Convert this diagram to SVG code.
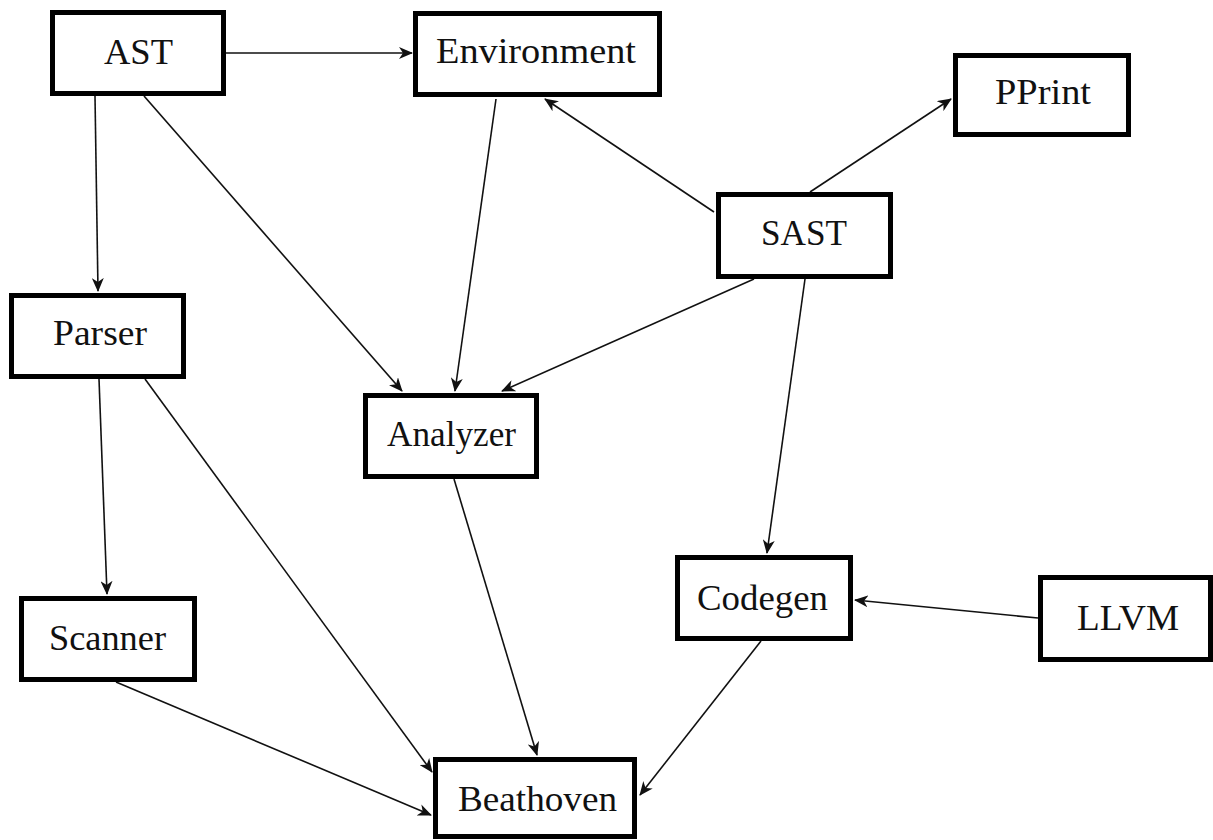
<svg xmlns="http://www.w3.org/2000/svg" width="1213" height="840" viewBox="0 0 1213 840">
<style>
.box{fill:#fff;stroke:#000;stroke-width:5}
.lbl{font-family:"Liberation Serif","Times New Roman",serif;font-size:35px;fill:#111;text-anchor:middle}
.edge{stroke:#111;stroke-width:1.6;fill:none;marker-end:url(#arr)}
</style>
<defs>
<marker id="arr" markerUnits="userSpaceOnUse" markerWidth="14" markerHeight="12" refX="13" refY="6" orient="auto" viewBox="0 0 14 12">
<path d="M0,0 L14,6 L0,12 L4,6 z" fill="#111"/>
</marker>
</defs>
<rect width="1213" height="840" fill="#fff"/>
<g id="connectors">
<line class="edge" x1="226" y1="53" x2="412" y2="53"/>
<line class="edge" x1="95" y1="96" x2="98" y2="291"/>
<line class="edge" x1="144" y1="96" x2="402" y2="391"/>
<line class="edge" x1="496" y1="99" x2="455" y2="391"/>
<line class="edge" x1="714" y1="212" x2="545" y2="99"/>
<line class="edge" x1="810" y1="192" x2="951" y2="99"/>
<line class="edge" x1="754" y1="279" x2="502" y2="391"/>
<line class="edge" x1="805" y1="279" x2="767" y2="553"/>
<line class="edge" x1="1038" y1="618" x2="855" y2="600"/>
<line class="edge" x1="99" y1="379" x2="107" y2="594"/>
<line class="edge" x1="145" y1="379" x2="432" y2="772"/>
<line class="edge" x1="116" y1="682" x2="431" y2="815"/>
<line class="edge" x1="454" y1="479" x2="537" y2="755"/>
<line class="edge" x1="761" y1="641" x2="640" y2="795"/>
</g>
<g id="AST"><rect class="box" x="52.5" y="12.5" width="171" height="81"/><text class="lbl" x="138.5" y="64" textLength="69" lengthAdjust="spacingAndGlyphs">AST</text></g>
<g id="Environment"><rect class="box" x="415.5" y="13.5" width="244" height="81"/><text class="lbl" x="536" y="63" textLength="200" lengthAdjust="spacingAndGlyphs">Environment</text></g>
<g id="PPrint"><rect class="box" x="955.5" y="55.5" width="173" height="79"/><text class="lbl" x="1043" y="104" textLength="96" lengthAdjust="spacingAndGlyphs">PPrint</text></g>
<g id="SAST"><rect class="box" x="718.5" y="194.5" width="172" height="82"/><text class="lbl" x="804" y="245" textLength="86" lengthAdjust="spacingAndGlyphs">SAST</text></g>
<g id="Parser"><rect class="box" x="11.5" y="295.5" width="172" height="81"/><text class="lbl" x="100" y="345" textLength="94" lengthAdjust="spacingAndGlyphs">Parser</text></g>
<g id="Analyzer"><rect class="box" x="365.5" y="395.5" width="171" height="81"/><text class="lbl" x="451.5" y="446" textLength="129" lengthAdjust="spacingAndGlyphs">Analyzer</text></g>
<g id="Scanner"><rect class="box" x="21.5" y="598.5" width="173" height="81"/><text class="lbl" x="107.5" y="650" textLength="117" lengthAdjust="spacingAndGlyphs">Scanner</text></g>
<g id="Codegen"><rect class="box" x="677.5" y="557.5" width="173" height="81"/><text class="lbl" x="762.5" y="610" textLength="131" lengthAdjust="spacingAndGlyphs">Codegen</text></g>
<g id="LLVM"><rect class="box" x="1040.5" y="577.5" width="170" height="82"/><text class="lbl" x="1128" y="630" textLength="102" lengthAdjust="spacingAndGlyphs">LLVM</text></g>
<g id="Beathoven"><rect class="box" x="435.5" y="759.5" width="199" height="77"/><text class="lbl" x="537.5" y="811" textLength="159" lengthAdjust="spacingAndGlyphs">Beathoven</text></g>
</svg>
